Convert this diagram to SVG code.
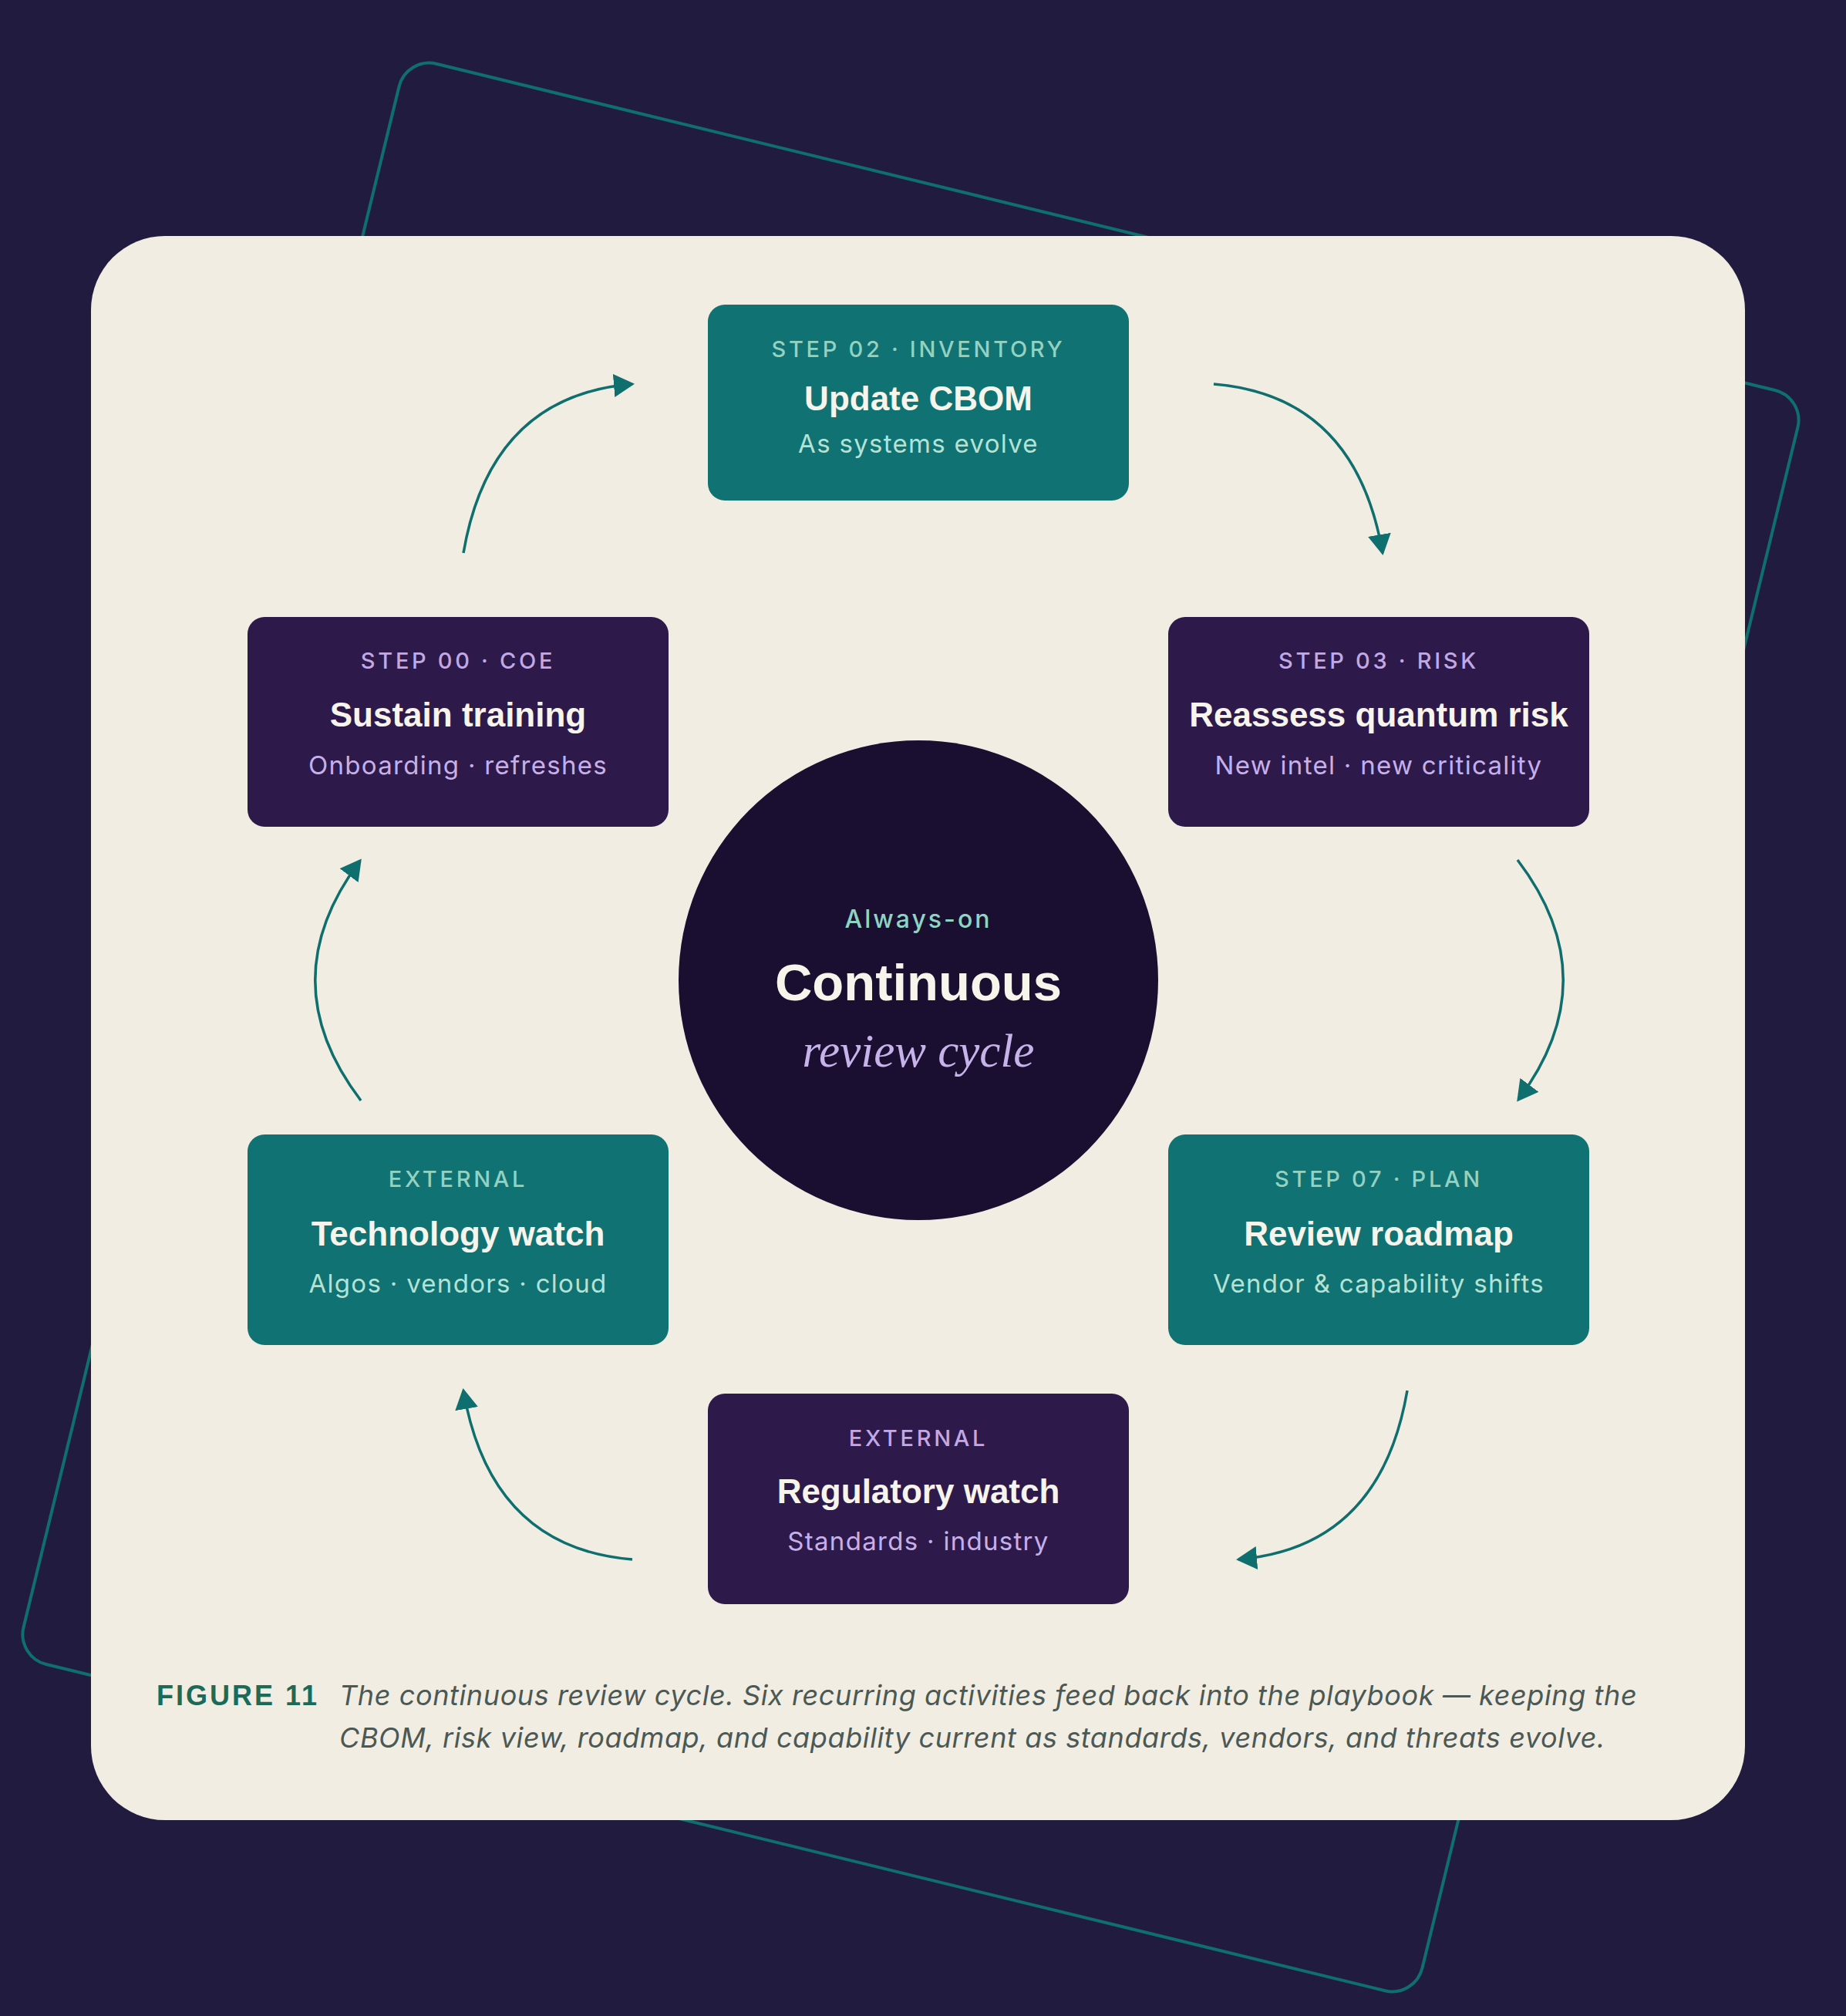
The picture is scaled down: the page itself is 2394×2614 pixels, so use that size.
<svg xmlns="http://www.w3.org/2000/svg" width="2394" height="2614" viewBox="0 0 2394 2614">
<defs>
<style>
.lbl{font-family:Inter,"Noto Sans","Liberation Sans",sans-serif;font-weight:500;font-size:29px;letter-spacing:3.7px;text-anchor:middle}
.ttl{font-family:"Liberation Sans",Arial,sans-serif;font-weight:700;font-size:44px;fill:#f7f4ec;text-anchor:middle}
.sub{font-family:Inter,"Noto Sans","Liberation Sans",sans-serif;font-weight:400;font-size:33px;letter-spacing:1.3px;text-anchor:middle}
.teal .box{fill:#107272}
.teal .lbl{fill:#93d1c0}
.teal .sub{fill:#b4e2d5}
.purp .box{fill:#2d1a4b}
.purp .lbl{fill:#c2a8e4}
.purp .sub{fill:#c7b0ea}
.conn path{fill:none;stroke:#0f6e6e;stroke-width:3.5;marker-end:url(#ah)}
.cap{font-family:Inter,"Noto Sans","Liberation Sans",sans-serif;font-style:italic;font-size:36px;letter-spacing:0.6px;fill:#4b5853}
</style>
<marker id="ah" markerUnits="userSpaceOnUse" viewBox="0 0 27 30" markerWidth="27" markerHeight="30" refX="24" refY="15" orient="auto">
<path d="M0,0 L27,15 L0,30 z" fill="#0f6e6e"/>
</marker>
</defs>
<rect x="0" y="0" width="2394" height="2614" fill="#211c3f"/>
<rect x="-933.5" y="-1068" width="1867" height="2136" rx="40" transform="translate(1181 1332) rotate(13.7)" fill="none" stroke="#0f6e6e" stroke-width="4"/>
<rect x="118" y="306" width="2145" height="2054" rx="96" fill="#f1ede3"/>

<g class="conn" id="connectors">
<path d="M601,717 Q636,513 820,498"/>
<path d="M1574,498 Q1758,513 1793,717"/>
<path d="M1968,1115 Q2086,1270 1969,1426"/>
<path d="M1825,1803 Q1790,2007 1606,2022"/>
<path d="M820,2022 Q636,2007 601,1803"/>
<path d="M468,1427 Q350,1272 467,1116"/>
</g>

<g id="center">
<circle cx="1191" cy="1271" r="311" fill="#1a0f30"/>
<text x="1191" y="1203" style="font-family:Inter,'Noto Sans',sans-serif;font-weight:500;font-size:32px;letter-spacing:3px;fill:#8fd4c2" text-anchor="middle">Always-on</text>
<text x="1191" y="1297" style="font-family:'Liberation Sans',Arial,sans-serif;font-weight:700;font-size:67px;fill:#f7f4ec" text-anchor="middle">Continuous</text>
<text x="1191" y="1383" style="font-family:'Liberation Serif','Times New Roman',serif;font-style:italic;font-size:61px;fill:#c6b3ea" text-anchor="middle">review cycle</text>
</g>

<g id="node-update-cbom" class="teal">
<rect class="box" x="918" y="395" width="546" height="254" rx="22"/>
<text class="lbl" x="1191" y="463">STEP 02 · INVENTORY</text>
<text class="ttl" x="1191" y="532">Update CBOM</text>
<text class="sub" x="1191" y="587">As systems evolve</text>
</g>

<g id="node-sustain-training" class="purp">
<rect class="box" x="321" y="800" width="546" height="272" rx="22"/>
<text class="lbl" x="594" y="867">STEP 00 · COE</text>
<text class="ttl" x="594" y="942">Sustain training</text>
<text class="sub" x="594" y="1004">Onboarding · refreshes</text>
</g>

<g id="node-reassess-risk" class="purp">
<rect class="box" x="1515" y="800" width="546" height="272" rx="22"/>
<text class="lbl" x="1788" y="867">STEP 03 · RISK</text>
<text class="ttl" x="1788" y="942">Reassess quantum risk</text>
<text class="sub" x="1788" y="1004">New intel · new criticality</text>
</g>

<g id="node-technology-watch" class="teal">
<rect class="box" x="321" y="1471" width="546" height="273" rx="22"/>
<text class="lbl" x="594" y="1539">EXTERNAL</text>
<text class="ttl" x="594" y="1615">Technology watch</text>
<text class="sub" x="594" y="1676">Algos · vendors · cloud</text>
</g>

<g id="node-review-roadmap" class="teal">
<rect class="box" x="1515" y="1471" width="546" height="273" rx="22"/>
<text class="lbl" x="1788" y="1539">STEP 07 · PLAN</text>
<text class="ttl" x="1788" y="1615">Review roadmap</text>
<text class="sub" x="1788" y="1676">Vendor &amp; capability shifts</text>
</g>

<g id="node-regulatory-watch" class="purp">
<rect class="box" x="918" y="1807" width="546" height="273" rx="22"/>
<text class="lbl" x="1191" y="1875">EXTERNAL</text>
<text class="ttl" x="1191" y="1949">Regulatory watch</text>
<text class="sub" x="1191" y="2010">Standards · industry</text>
</g>

<g id="caption">
<text x="203" y="2211" style="font-family:'Liberation Sans',Arial,sans-serif;font-weight:700;font-size:36px;letter-spacing:3px;fill:#1c6b58">FIGURE 11</text>
<text class="cap" x="440" y="2211">The continuous review cycle. Six recurring activities feed back into the playbook — keeping the</text>
<text class="cap" x="440" y="2266">CBOM, risk view, roadmap, and capability current as standards, vendors, and threats evolve.</text>
</g>
</svg>
